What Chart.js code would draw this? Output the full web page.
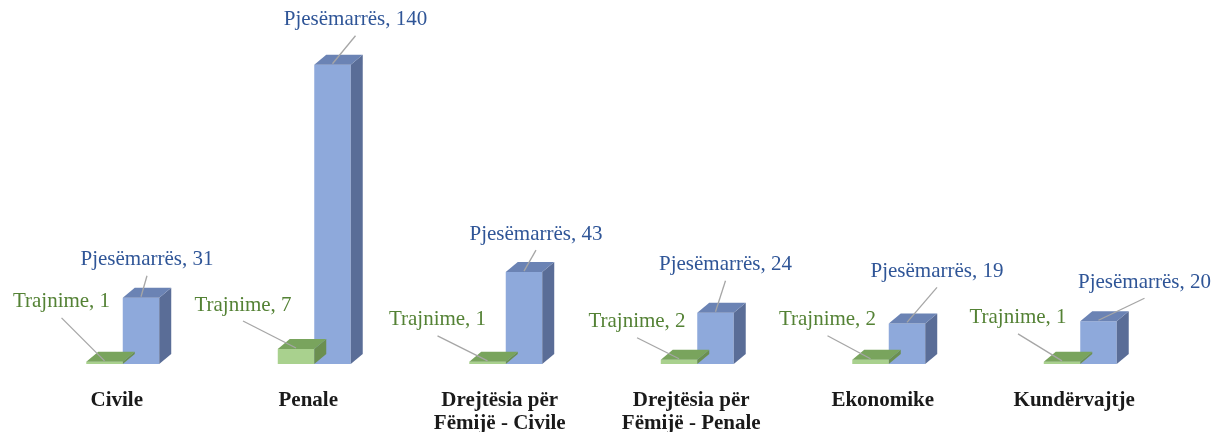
<!DOCTYPE html>
<html>
<head>
<meta charset="utf-8">
<script src="https://cdn.jsdelivr.net/npm/chart.js@4.4.1/dist/chart.umd.min.js"></script>
<style>
  html, body { margin: 0; padding: 0; background: #fff; }
  #wrap { width: 1217px; height: 432px; }
</style>
</head>
<body>
<div id="wrap"><canvas id="chart" width="1217" height="432"></canvas></div>
<script>
// Kategoritë
const categories = [
  "Civile",
  "Penale",
  ["Drejtësia për", "Fëmijë - Civile"],
  ["Drejtësia për", "Fëmijë - Penale"],
  "Ekonomike",
  "Kundërvajtje"
];

// Seritë
const trajnime = [1, 7, 1, 2, 2, 1];
const pjesemarres = [31, 140, 43, 24, 19, 20];

// Zhvendosja e etiketave nga maja e shtyllës (px)
const trajnimeLabelOffsets = [[-43, -60], [-53, -44], [-50, -42], [-42, -38], [-43, -40], [-44, -44]];
const pjesemarresLabelOffsets = [[6, -38], [23, -45], [12, -38], [10, -48], [30, -52], [46, -39]];

const serif = "'Liberation Serif', 'Times New Roman', serif";
const green = { front: '#A9D18E', top: '#79A45D', side: '#6B8F50', text: '#548235' };
const blue = { front: '#8EA9DB', top: '#6B83B4', side: '#5A6D97', text: '#2F5597' };
const depth = { dx: 12, dy: -10 };

function drawFaces(ctx, bar, col) {
  const p = bar.getProps(['x', 'y', 'base', 'width'], true);
  const l = p.x - p.width / 2, r = p.x + p.width / 2;
  const t = Math.min(p.y, p.base), b = Math.max(p.y, p.base);
  // ana e djathtë
  ctx.fillStyle = col.side;
  ctx.beginPath();
  ctx.moveTo(r, t);
  ctx.lineTo(r + depth.dx, t + depth.dy);
  ctx.lineTo(r + depth.dx, b + depth.dy);
  ctx.lineTo(r, b);
  ctx.closePath();
  ctx.fill();
  // maja
  ctx.fillStyle = col.top;
  ctx.beginPath();
  ctx.moveTo(l, t);
  ctx.lineTo(l + depth.dx, t + depth.dy);
  ctx.lineTo(r + depth.dx, t + depth.dy);
  ctx.lineTo(r, t);
  ctx.closePath();
  ctx.fill();
}

const bars3d = {
  id: 'bars3d',
  afterDatasetDraw(chart, args) {
    const ctx = chart.ctx;
    const col = args.index === 0 ? green : blue;
    ctx.save();
    args.meta.data.forEach(bar => drawFaces(ctx, bar, col));
    ctx.restore();
  },
  afterDraw(chart) {
    const ctx = chart.ctx;
    ctx.save();
    ctx.font = '21px ' + serif;
    ctx.textAlign = 'center';
    ctx.textBaseline = 'middle';
    chart.data.datasets.forEach((ds, di) => {
      const meta = chart.getDatasetMeta(di);
      const offs = di === 0 ? trajnimeLabelOffsets : pjesemarresLabelOffsets;
      const col = di === 0 ? green : blue;
      meta.data.forEach((bar, i) => {
        const p = bar.getProps(['x', 'y'], true);
        const lx = p.x + offs[i][0], ly = p.y + offs[i][1];
        // vija udhëzuese
        ctx.strokeStyle = '#A6A6A6';
        ctx.lineWidth = 1.3;
        ctx.beginPath();
        ctx.moveTo(lx, ly + 16);
        ctx.lineTo(p.x, p.y - 1);
        ctx.stroke();
        ctx.fillStyle = col.text;
        ctx.fillText(ds.label + ', ' + ds.data[i], lx, ly);
      });
    });
    ctx.restore();
  }
};

new Chart(document.getElementById('chart'), {
  type: 'bar',
  data: {
    labels: categories,
    datasets: [
      { label: 'Trajnime', data: trajnime, backgroundColor: green.front },
      { label: 'Pjesëmarrës', data: pjesemarres, backgroundColor: blue.front }
    ]
  },
  options: {
    responsive: false,
    animation: false,
    devicePixelRatio: 1,
    layout: { padding: { left: 27, right: 41, top: 22, bottom: 0 } },
    datasets: { bar: { categoryPercentage: 0.381, barPercentage: 1 } },
    plugins: { legend: { display: false }, tooltip: { enabled: false } },
    scales: {
      x: {
        grid: { display: false, drawTicks: false },
        border: { display: false },
        afterFit(scale) { scale.height = 68; },
        ticks: {
          padding: 25,
          labelOffset: -6,
          maxRotation: 0,
          autoSkip: false,
          color: '#1a1a1a',
          font: { family: serif, size: 21, weight: 'bold', lineHeight: 1.1 }
        }
      },
      y: { display: false, min: 0, max: 160 }
    }
  },
  plugins: [bars3d]
});
</script>
</body>
</html>
